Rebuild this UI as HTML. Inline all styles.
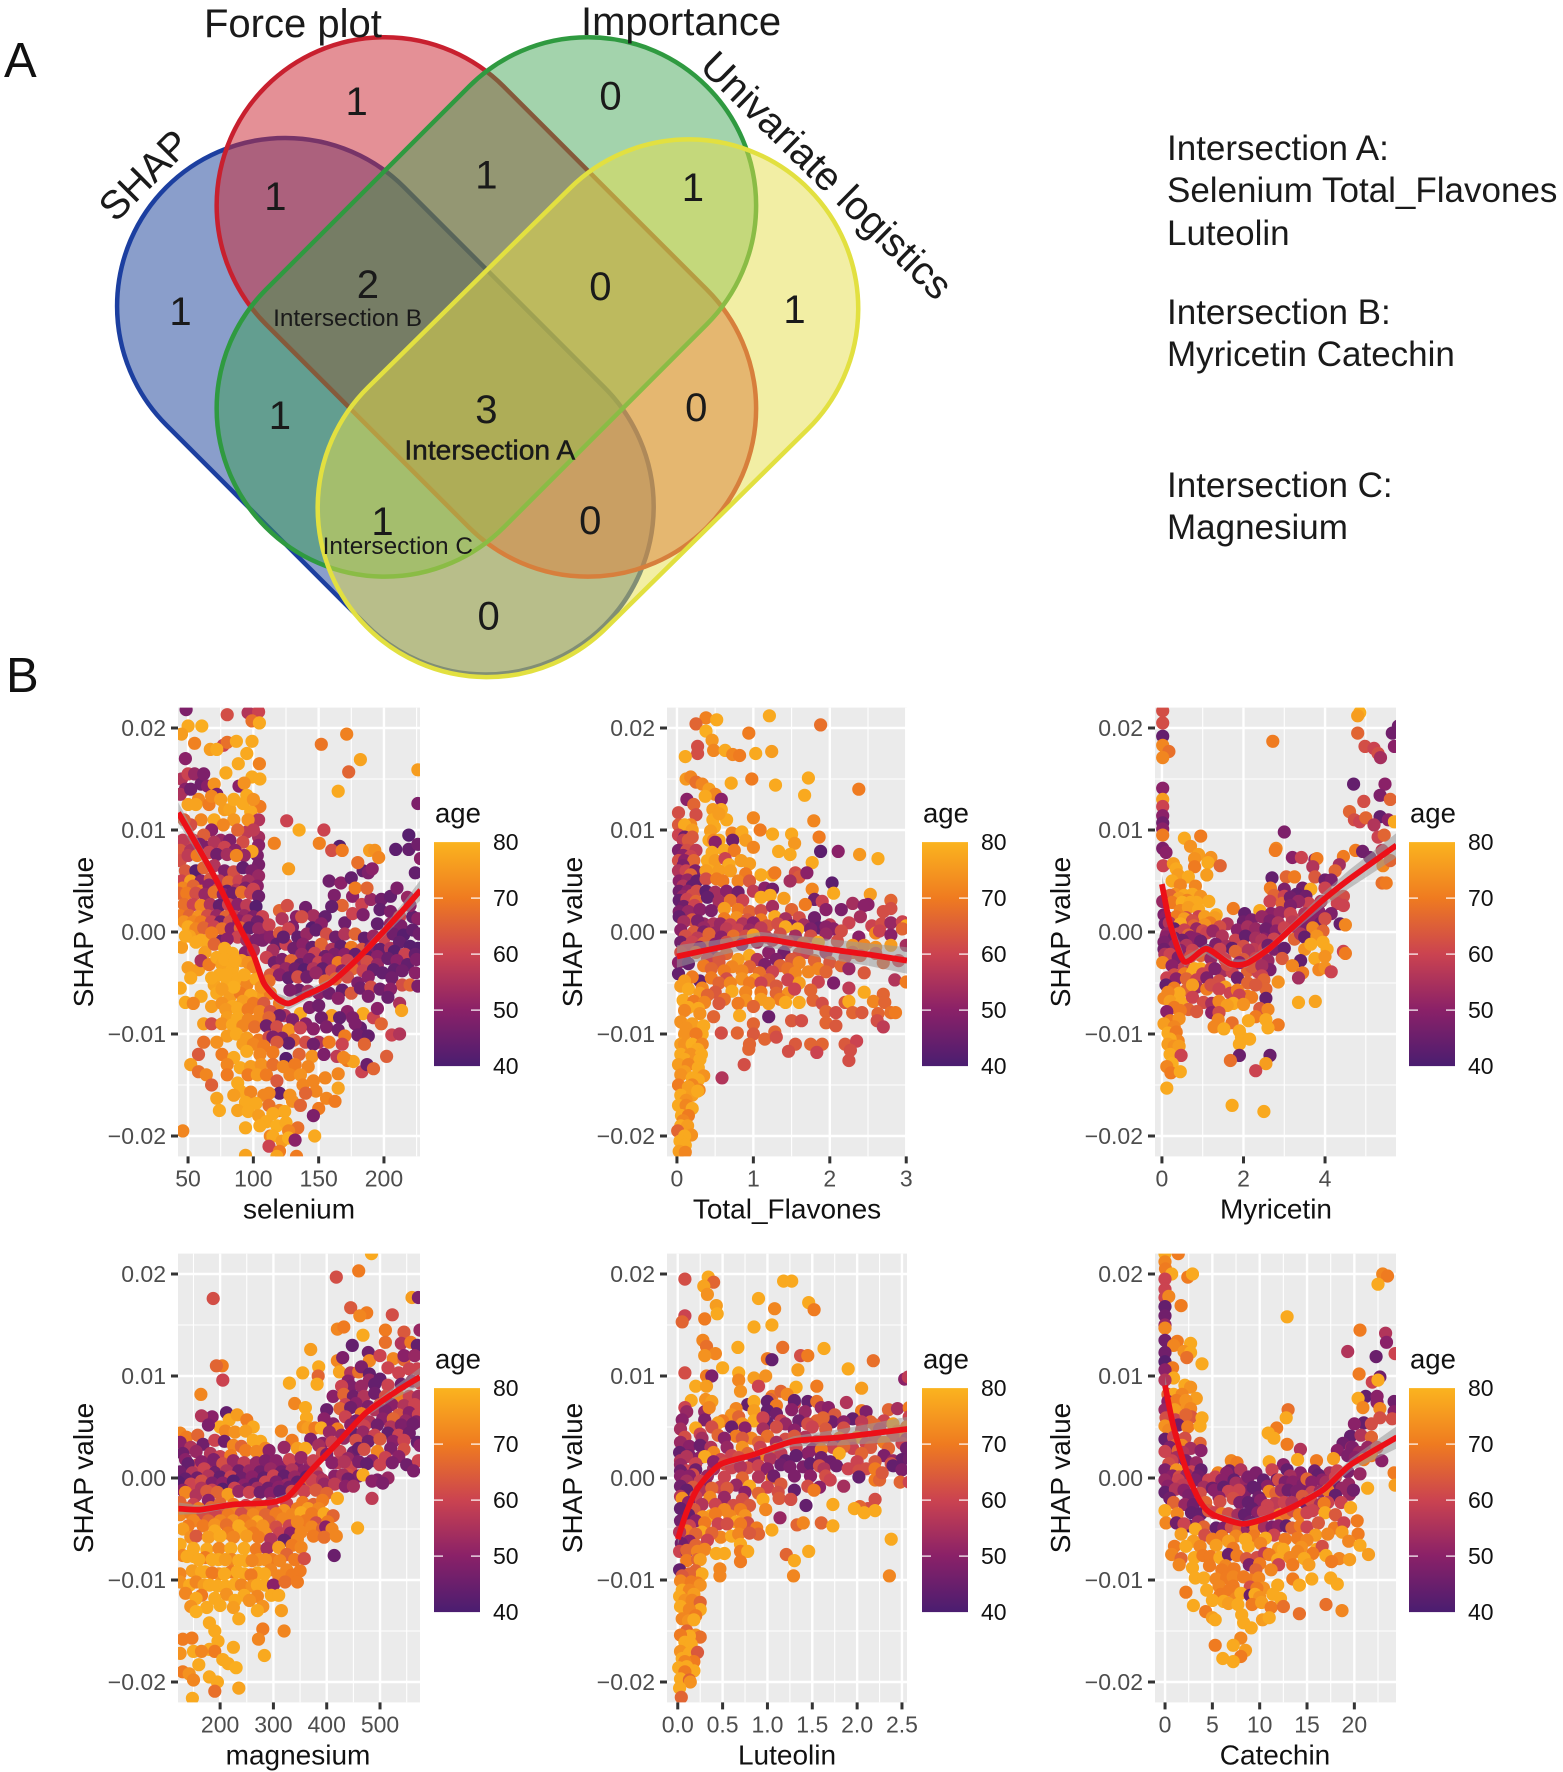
<!DOCTYPE html>
<html><head><meta charset="utf-8"><title>Venn diagram and SHAP dependence plots</title>
<style>
html,body{margin:0;padding:0;background:#fff}
svg{display:block}
text{font-family:"Liberation Sans",sans-serif}
</style></head>
<body>
<svg id="fig" xmlns="http://www.w3.org/2000/svg" width="1563" height="1772" viewBox="0 0 1563 1772">
<defs>
<linearGradient id="ageGradient" x1="0" y1="1" x2="0" y2="0">
<stop offset="0" stop-color="#4a1d70"/><stop offset="0.25" stop-color="#8a2168"/><stop offset="0.5" stop-color="#cb4350"/><stop offset="0.75" stop-color="#ef7b20"/><stop offset="1" stop-color="#fbb41f"/>
</linearGradient>
</defs>
<rect width="1563" height="1772" fill="#fff"/>
<text x="4" y="77" font-size="49" fill="#111">A</text>
<text x="6" y="692" font-size="49" fill="#111">B</text>
<g transform="scale(1.1285)">
<rect x="-274.5" y="-149" width="549" height="298" rx="149" transform="translate(341.5,360) rotate(45)" fill="#2a4ea0" fill-opacity=".55" stroke="#1c3fa0" stroke-width="4"/>
<rect x="-276.3" y="-149" width="552.6" height="298" rx="149" transform="translate(431,272) rotate(45)" fill="#cc2a35" fill-opacity=".52" stroke="#c8202f" stroke-width="4"/>
<rect x="-276.3" y="-149" width="552.6" height="298" rx="149" transform="translate(431,272) rotate(-45)" fill="#37a04a" fill-opacity=".46" stroke="#2f9a40" stroke-width="4"/>
<rect x="-275.7" y="-150" width="551.4" height="300" rx="150" transform="translate(521,361.75) rotate(-44.6)" fill="#e6de4a" fill-opacity=".5" stroke="#e2e040" stroke-width="4"/>
<g font-size="35.5" fill="#1a1a1a" text-anchor="middle">
<text x="316" y="102">1</text>
<text x="541" y="97">0</text>
<text x="244" y="186">1</text>
<text x="431" y="167">1</text>
<text x="614" y="178">1</text>
<text x="160" y="288">1</text>
<text x="326" y="264">2</text>
<text x="532" y="266">0</text>
<text x="704" y="286">1</text>
<text x="248" y="380">1</text>
<text x="431" y="375">3</text>
<text x="617" y="373">0</text>
<text x="339" y="474">1</text>
<text x="523" y="473">0</text>
<text x="433" y="558">0</text>
</g>
<g fill="#1a1a1a" text-anchor="middle">
<text x="308" y="289" font-size="21.6">Intersection B</text>
<text x="434" y="407" font-size="25" stroke="#1a1a1a" stroke-width=".4">Intersection A</text>
<text x="352.5" y="491" font-size="21.6">Intersection C</text>
</g>
</g>
<g font-size="40" fill="#1a1a1a">
<text x="204" y="37">Force plot</text>
<text x="581" y="35">Importance</text>
<text x="144" y="189" text-anchor="middle" transform="rotate(-45 144 175)">SHAP</text>
<text x="827" y="189" text-anchor="middle" transform="rotate(44.5 827 175)">Univariate logistics</text>
</g>
<g font-size="35" fill="#1a1a1a">
<text x="1167" y="160">Intersection A:</text>
<text x="1167" y="202">Selenium Total_Flavones</text>
<text x="1167" y="245">Luteolin</text>
<text x="1167" y="324">Intersection B:</text>
<text x="1167" y="366">Myricetin Catechin</text>
<text x="1167" y="497">Intersection C:</text>
<text x="1167" y="539">Magnesium</text>
</g>
<g id="plots"></g>
</svg>
<script>
// y values are SHAP x 1000; points are [x, shap, age]
const shapTicks=[-20,-10,0,10,20];
const shapTickLabels=["\u22120.02","\u22120.01","0.00","0.01","0.02"];
const ageTicks=[40,50,60,70,80];

const seleniumTicks=[50,100,150,200];
const seleniumTickLabels=["50","100","150","200"];
const seleniumSmoothX=[42.5,60,72,87,100,108,118,127,140,159,180,200,215,228];
const seleniumSmoothY=[11.7,7.8,5,1.1,-2.2,-5,-6.5,-7,-6.2,-5,-2.6,.1,2.2,4.1];
const seleniumSmoothSE=[1,.7,.5,.4,.4,.4,.5,.6,.5,.4,.4,.5,.7,1];
const seleniumPoints=[
[80,21.3,62],[48.5,21.8,48],[96,21.5,56],[104,21.6,60],[99,20.7,68],[104.6,20.5,78],[50,20.2,78],[60.5,20.2,79],[45,19.4,76],[55,18.5,71],[77,18.3,60],[80,18.6,68],[87,18.7,78],[99,18.7,78],[67,17.9,76],[72,17.9,78],[48,17,50],[95,17.5,78],[88.5,16.5,78],[104.6,16.5,71],[79,15.6,78],[99,15.2,78],[105,15,78],[152,18.4,69],[171.5,19.4,71],[182,16.9,77],[173,15.7,66],[165,13.8,78],[226,15.9,76],[45,15,56],[50,15.5,60],[55,15.5,52],[48,14,50],[60,14.5,46],[65,14.3,50],[70,14.5,74],[89,14.3,50],[93,14.6,74],[72,13.5,48],[58,13,72],[50,12.5,77],[56,12.5,77],[44,13.5,55],[95,13.4,78],[66,12.5,70],[78,12,76],[82,12,77],[105,12.3,70],[98,11.8,78],[70,11,78],[60,11,72],[52,10.5,62],[47,11,65],[85,11,75],[77,10.5,72],[68,10,50],[62,9.5,65],[54,9,60],[46,9,58],[75,9,52],[82,9,48],[125.5,10.9,60],[135,10,78],[154,10,60],[95,9.8,58],[104,11,56],[150.5,8.7,71],[116,8.7,71],[104,9.3,54],[104,8.5,50],[103,7.5,48],[104,6.6,47],[99,7.9,77],[127,6.2,76],[166,8.4,42],[160,8,62],[168,8,70],[189,8,76],[193,8,74],[196,7.3,72],[209,8.1,43],[219,8.1,44],[219,9.5,42],[226,8.6,46],[224,5.8,44],[226,12.6,48],[228,7.2,50],
[52,14,46],[62,15.5,48],[68,13.3,72],[75,13,76],[85,13,78],[92,12.6,78],[100,13,74],[88,10,66],[92,8.8,62],[96,11,74],[100,10,58],[64,8.3,48],[70,8.8,56],[78,8.3,60],[86,8,50],[93,7.5,52],[44,8,64],[52,8,56],[59,8.6,48],
[44,7,62],[50,7.5,58],[57,7.5,70],[66,7.8,60],[72,7.6,46],[80,7.6,54],[87,7.5,72],[48,6,64],[56,6,42],[62,6.3,66],[70,6.5,56],[78,6,48],[85,5.9,62],[92,6.3,44],[99,6,48],[104,5.5,52],[45,5,60],[52,5,76],[60,5,50],[67,5.2,64],[74,5,58],[81,4.9,66],[89,5,60],[96,5,54],[103,4.5,50],[46,4.3,72],[54,4.5,66],[60,4,70],[66,4.6,50],[73,4.2,62],[80,4,44],[87,4.1,56],[94,4.3,48],[100,4.2,60],[43,3.8,66],[49,3.8,70],[56,3.8,62],[63,3.7,52],[70,3.9,68],[77,3.7,50],[84,3.8,46],[91,3.9,68],[98,3.8,60],[104,3.5,46],[47,2.7,68],[54,2.7,60],[60,2.6,72],[67,2.7,56],[74,2.6,44],[81,2.7,60],[88,2.7,50],[95,2.6,58],[102,2.5,42],[44,1.6,70],[51,1.6,66],[58,1.5,74],[65,1.6,62],[72,1.6,52],[79,1.5,66],[86,1.5,58],[93,1.6,52],[100,1.5,48],[107,1.5,60],[47,1,74],[54,1,72],[60,1,70],[68,1,60],[75,1,46],[82,1,62],[89,1.1,50],[96,1.1,56],[103,1,46],[110,.2,50],[50,.5,78],[56,.3,72],[62,.4,66],[70,.5,60],[76,.3,68],[83,.3,50],[90,.4,66],[97,.4,44],[104,.3,52],[51,-.4,77],[60,-.8,78],[66,-.9,78],[75,-.9,46],[88,-.5,60],[95,-.8,54],[102,-.8,48],[45,-1.5,76],[68,-.1,70],[48,-.4,78],[56,-1,78],[63,-2,76],[70,-1.2,66],[80,-.7,50],[94,-2,50],[100,-1.8,56],[107,-.8,48],
[112,.7,60],[120,2.1,66],[126,2.6,62],[133,1.5,50],[140,2.4,46],[146,1.6,54],[155,1.5,44],[162,3.6,48],[168,2.6,66],[176,3.5,50],[183,2.7,60],[190,3.2,52],[198,3.2,46],[205,3.5,44],[210,4.3,48],[218,3.4,52],[158,5,46],[167,4.8,50],[175,5.3,44],[184,6,44],[188,5.8,48],[180,6.8,68],[191,6.2,50],[178,4.3,70],[187,4.3,66],[197,2.2,44],[205,2,48],[212,1.5,60],[222,1.5,44],[226,1.3,50],[122,1.3,56],[130,.5,48],[137,1.5,62],[145,.4,42],[152,.8,50],[160,2.5,44],[170,.9,46],[176,1.8,60],[184,1.7,48],[195,.8,44],[205,.8,52],[213,.6,48],[220,2.6,50],
[113,-.5,50],[120,-.1,64],[127,.3,60],[134,-.5,44],[141,-.2,52],[148,.2,44],[156,-.2,62],[163,-.5,46],[170,-.2,56],[178,-.2,66],[185,-.6,44],[192,-.4,52],[200,-.6,60],[207,-.2,46],[215,-.3,42],[222,.2,44],[227,-.2,46],[118,-1.2,44],[125,-1.2,60],[131,-1.6,46],[138,-1.2,50],[145,-1.5,44],[152,-1.2,66],[160,-1.7,56],[167,-1.4,44],[175,-1.5,70],[183,-1.7,64],[190,-1.5,48],[197,-1.7,44],[205,-1.6,56],[212,-1,44],[220,-1.4,42],[226,-1.6,42],[115,-1.8,54],[123,-.5,44],[137,-2.2,52],[147,-2.1,60],[155,-2.4,46],[162,-2.2,48],[170,-2.2,50],[178,-2.2,44],[187,-2.4,44],[195,-2.4,50],[208,-1.9,42],[216,-2.2,60],[224,-2.2,44],[110,-2.5,60],[116,-3,46],[122,-2.7,48],[129,-2.8,66],[136,-3.2,44],[143,-2.7,48],[150,-3,60],[157,-2.7,50],[165,-3,70],[172,-2.8,60],[180,-3.2,56],[187,-2.9,62],[195,-3.2,52],[203,-2.6,45],[210,-2.8,50],[218,-3.2,44],[225,-2.7,48],[118,-3.8,60],[125,-3.6,52],[132,-3.6,46],[139,-3.7,42],[146,-3.6,56],[153,-3.6,44],[160,-3.8,60],[168,-3.8,50],[176,-3.6,66],[184,-3.8,60],[192,-3.7,44],[208,-3.7,44],[214,-3.8,46],[224,-4,50],[113,-4.2,64],[120,-4.2,50],[127,-4.5,44],[134,-4.4,62],[141,-4.4,46],[148,-4,52],[155,-4.8,66],[163,-4.6,66],[172,-4.4,62],[180,-5,48],[188,-4.4,50],[199,-4,44],[206,-4.5,46],[214,-5.2,62],[220,-5.2,66],[226,-5.3,48],[135,-5.7,46],[142,-5.8,54],[150,-6,50],[168,-5.7,44],[175,-6,64],[182,-5.5,46],[190,-5.4,62],[128,-5.7,48],[158,-6,46],[165,-6.5,50],[188,-6.3,48],[197,-5.6,46],[205,-5.6,50],
[44,-5.5,78],[50,-3.5,76],[58,-3.7,76],[60,-2.8,55],[52,-4.5,78],[66,-3.2,70],[72,-2.5,78],[48,-6.9,78],[60,-6.3,78],[54,-7,72],[78,-1.6,78],[84,-2.1,78],[70,-5.2,77],[76,-3.2,77],[84,-3.6,78],[91,-2.8,76],[96,-3,74],[74,-4.2,78],[80,-4.9,78],[88,-4.6,78],[95,-5.2,72],[102,-4.6,78],[100,-6.4,78],[72,-6,78],[82,-6.4,76],[90,-6,70],[106,-6.5,76],[113,-6,70],[120,-7,70],[78,-2.7,78],[86,-2.8,78],[100,-3.4,72],[68,-4.5,78],[79,-4.2,78],[85,-5.4,79],[93,-4.2,78],[76,-5.6,76],[98,-6.2,78],[106,-5.4,74],[112,-4.8,68],[68,-7.3,76],[76,-7,74],[84,-7.3,78],[92,-6.8,76],[100,-7,70],[108,-7,64],[79,-7.6,75],[88,-7.5,78],[96,-7.6,70],[105,-7.8,72],[113,-7.8,62],[124,-8.2,56],[136,-8,78],[143,-7.4,48],[150,-7.2,46],[160,-8.2,76],[172,-7.8,50],[184,-8,78],[192,-8.4,60],[203,-6.4,45],[212,-7,55],[213.5,-7.7,77],[195,-7.5,50],[120,-8.2,46],[130,-8.6,48],[140,-9,50],[152,-8.4,46],[166,-8.4,44],[176,-8.4,48],[182,-9.4,44],[80,-8.4,76],[88,-8.4,78],[96,-8.6,72],[104,-8.5,72],[112,-8.4,66],[62,-9,76],[68,-9,62],[76,-9,74],[84,-9.1,78],[92,-9.2,72],[101,-9.3,68],[110,-9.2,46],[118,-9.3,62],[127,-9.6,74],[136,-9.4,60],[146,-9.5,50],[156,-9.3,48],[165,-9.6,46],[178,-9,48],[198,-9,66],[80,-10.2,76],[87,-10,78],[95,-10.4,76],[104,-10.6,70],[112,-10.3,62],[122,-10.4,48],[131,-10.6,66],[140,-10.8,62],[150,-10.8,56],[180,-10.1,46],[188,-10.2,44],[206,-10.1,60],[212,-10,56],[185,-11,66],[170,-10.2,70],[115,-10.3,48],[127,-10.9,44],[146,-11,46],[158,-10.8,70],[168,-11,60],[92,-11,76],[100,-11,72],[108,-11.2,70],[118,-10.8,64],[62,-10.8,68],[72,-10.8,74],[58,-12,64],[76,-12,70],[85,-12.3,78],[95,-11.7,78],[105,-12,72],[115,-11.8,70],[125,-12.4,42],[135,-12,66],[145,-12.2,74],[154,-12,48],[164,-12.2,58],[52,-13,76],[172,-12.6,70],[176.5,-12.7,77],[202,-12.2,65],[169,-12.3,72],[80,-13,72],[90,-13.3,78],[98,-13.2,76],[106,-13,74],[115,-13,68],[123,-13.2,72],[132,-13,70],[142,-13.2,72],[58,-13.7,68],[64,-14,72],[68,-15,65],[80,-14,70],[88,-14.8,78],[96,-14,70],[103,-14,76],[110,-14,70],[118,-14.6,64],[128,-14,72],[136,-14,74],[146,-14.6,72],[183,-13.7,60],[187,-13,45],[192,-13.4,66],[165,-13.9,72],[165,-15.3,77],[138,-15,72],[155,-14.3,72],[90,-15.6,78],[98,-15.7,72],[108,-16,72],[120,-15.8,44],[128,-16,74],[148,-15.6,72],[140,-15.8,66],[85,-16,76],[94,-16.7,78],[102,-16.8,78],[112,-15.8,72],[72,-16.3,77],[74,-17.5,78],[88,-17.5,77],[96,-17.6,78],[104,-18,76],[112,-17,68],[120,-17.5,72],[130,-16.6,74],[156,-16.3,72],[162.5,-16.6,70],[136,-17,66],[150,-17.3,70],[146,-18,48],[115,-17.8,78],[124,-17.6,78],[110,-18.6,78],[118,-19,79],[125,-18.7,78],[94,-19.2,78],[105,-19,78],[134,-19.2,68],[113,-20,72],[115,-20,78],[122,-20.5,76],[127,-19.5,72],[127,-20.2,79],[132,-20.4,50],[147,-20,78],[112,-21,60],[120,-21.5,70],[94,-21.9,77],[118,-22,77],[133,-22,70],[46,-19.5,72]
];

const flavonesTicks=[0,1,2,3];
const flavonesTickLabels=["0","1","2","3"];
const flavonesSmoothX=[0,.5,1.1,1.5,2,2.5,3.01];
const flavonesSmoothY=[-2.4,-1.6,-.7,-1.1,-1.7,-2.2,-2.8];
const flavonesSmoothSE=[1.1,.8,.7,.8,1,1.1,1.3];
const flavonesPoints=[
[.38,21,71],[.52,20.8,78],[.25,20.4,66],[1.21,21.2,78],[.94,19.5,70],[1.88,20.3,68],[.38,19.7,79],[.46,18.8,75],[.27,18.2,62],[.27,17.5,62],[.48,17.8,72],[.63,17.8,78],[.73,17.4,72],[.82,17.3,70],[1.03,17.5,78],[1.24,17.7,76],[.11,17.2,78],[.98,15,70],[.71,14.6,78],[1.29,14.4,78],[1.72,15.1,78],[1.67,13.4,78],[2.38,14,70],[.12,15,75],[.18,15.2,72],[.25,14.7,68],[.33,14.5,72],[.42,14,76],[.5,13.5,72],[.37,13.3,78],[.13,13,50],[.58,13,50],[.22,12.5,66],[.58,12,78],[.47,12,76],[.02,11.7,62],[.25,11.5,62],[1,11.2,72],[1.79,10.9,72],[.65,11,78],[.47,11,78],[.55,11.6,76],[.02,10.5,64],[.18,10.5,72],[.1,10.5,78],[.2,10,76],[.49,10.3,78],[.44,9.9,76],[1.09,10,70],[.02,9.5,60],[.1,9.3,46],[.2,9.3,64],[.72,9.7,72],[.85,9.8,78],[1.25,9.6,78],[1.5,9.6,78],[1.86,9.3,70],[.08,9,58],[.15,9,64],[.42,9,78],[.48,9,72],[.55,9,78],[.5,8.8,50],[.73,9,46],[.9,9,76],[1.54,8.7,75],[1,8.3,72],[.02,8,48],[.13,8,62],[.25,8,58],[.46,7.8,78],[.62,8,78],[.75,8,70],[1.33,7.9,78],[1.88,7.9,43],[2.11,7.9,50],[1.48,7.6,78],[2.39,7.6,75],[2.63,7.2,78],[.08,7.5,50],[.18,7.4,60],[.02,7,62],[.1,7,50],[.22,7,66],[.4,7,78],[.5,7,76],[.63,7.2,60],[.84,7,76],[.95,6.7,76],[1.77,6.8,78],[.68,6.6,78],[.08,6.5,48],[.02,6,56],[.12,6,60],[.24,6,48],[.42,6,78],[.38,6,76],[.55,6,76],[.7,6,76],[.9,5.7,70],[.18,5.6,66],[1.1,5.6,78],[1.25,5.6,78],[1.28,5.8,70],[1.55,5.8,62],[1.6,5.4,64],[1.7,5.8,50],[.03,5,50],[.14,5.1,52],[.26,5,44],[.38,5.2,62],[.52,5.2,70],[.6,5,70],[.8,5,72],[.95,5,64],[1.48,5,54],[2.03,4.8,43],[.08,4.5,56],[.2,4.5,44],[.03,4,46],[.14,4,50],[.26,4,62],[.38,4,43],[.5,3.9,54],[.65,4,50],[.8,3.9,46],[1,4,58],[1.15,4.3,50],[1.25,4.2,46],[1.77,4.2,72],[.08,3.5,52],[.2,3.6,62],[.03,3.1,44],[.13,3.2,60],[.25,3,66],[.4,3.4,44],[.55,3,54],[.7,3.1,68],[.86,3.1,60],[1.1,3.4,78],[1.22,3.6,78],[1.4,3.3,76],[1.8,3.2,46],[2.05,3.8,78],[2.53,3.7,76],[1.9,3,60],[2.3,2.8,54],[2.5,2.7,50],[2.8,3.1,66],[2.45,2.6,50],[.09,2.5,46],[.23,2.6,60],[.03,2,48],[.15,2,52],[.3,2.2,50],[.45,2.1,48],[.62,2.3,76],[.8,2.2,70],[.95,2,66],[1.1,2.1,62],[1.25,2.5,54],[1.5,2.2,66],[1.68,2.7,70],[1.95,2.2,50],[2.15,2.2,48],[2.8,2.3,62],[2.7,2,62],[.03,1.5,44],[.2,1.2,64],[.35,.8,52],[.48,.8,56],[.62,1.3,70],[.78,1.4,74],[.92,1.2,64],[1.1,1.2,70],[1.28,1.5,78],[1.42,1.3,54],[1.6,1.4,62],[1.8,1.4,46],[2,.7,58],[2.25,.9,60],[2.4,1.5,54],[2.55,.6,60],[2.68,.8,62],[2.8,.9,52],[2.95,1,60],[3,.6,78],[.09,1,54],[.27,1.1,48],[.35,.4,52],[.57,.8,52],[.7,.7,60],[.86,.8,56],[1,.9,50],[1.18,.6,64],[1.32,.8,62],[1.5,.6,48],[1.66,.7,54],[1.86,.4,44],[1.95,.5,50],[2.05,.3,50],[.05,.2,50],[.22,0,64],[.35,0,48],[.5,-.1,52],[.65,.3,58],[.8,.2,60],[.95,.2,52],[1.1,.4,58],[1.42,.5,78],[1.58,.3,78],[1.75,.3,48],[1.95,-.2,52],[2.15,.1,62],[2.38,-.5,50],[2.6,-.1,72],[2.65,.1,60],[2.8,-.3,50],[2.95,.3,66],[.11,-.4,62],[.27,-.6,58],[.42,-.2,66],[.58,-.5,50],[.74,-.4,68],[.9,-.4,62],[1,-.3,76],[1.17,-.5,58],[1.35,-.2,62],[1.55,-.4,54],[1.75,-.4,62],[.05,-1,46],[.2,-1,60],[.35,-1.1,66],[.5,-1.2,50],[.65,-1,62],[.85,-1.2,48],[1.05,-1,54],[1.25,-.8,56],[1.45,-1,60],[1.65,-1.1,66],[1.85,-1,78],[2.1,-.9,62],[2.3,-1.3,74],[2.45,-1.3,72],[2.6,-1.5,74],[2.8,-1.3,76],[3,-1.3,54],[.12,-1.5,60],[.3,-1.5,50],[.05,-2,62],[.25,-2,66],[.45,-2.1,52],[.65,-2.1,66],[.95,-2.3,78],[1.2,-2,50],[1.4,-2,46],[1.6,-2.1,62],[1.7,-2,60],[1.95,-2,54],[2.3,-2,66],[2.6,-2.1,64],[2.2,-2.5,60],[2.4,-2.3,64],[2.7,-3,66],[2.9,-2.8,60],[.1,-2.7,46],[.4,-2.6,60],[.55,-2.6,64],[.8,-2.7,76],[1.05,-2.7,56],[1.3,-2.7,48],[1.5,-2.7,64],[1.8,-2.8,66],[.02,-3,50],[.15,-3.1,44],[.35,-3.3,70],[.55,-3,64],[.72,-3.4,72],[.95,-3.4,66],[1.15,-3.2,48],[1.35,-3.3,66],[1.6,-3,72],[1.85,-3.6,72],[2,-3,64],[2.15,-3.3,66],[2.25,-3.6,52],[2.45,-4,64],[.45,-3.6,66],[.62,-3.8,70],[.85,-3.8,72],[1.08,-4,68],[1.25,-3.9,60],[1.45,-3.6,68],[1.55,-4,72],[1.72,-3.9,72],[1.95,-3.9,66],[.02,-4.1,44],[.3,-4.8,44],[.2,-4.4,70],[.45,-4.5,70],[.65,-4.6,62],[.85,-4.6,74],[1.02,-4.7,76],[1.2,-4.7,66],[1.45,-4.7,60],[1.6,-5,76],[1.85,-4.9,60],[2.05,-5,48],[2.25,-5.5,58],[2.85,-4.7,56],[3,-4.9,70],[.1,-4.8,76],[.55,-5,66],[.7,-5,72],[.95,-5,70],[1.1,-5,60],[1.3,-5.3,64],[1.75,-5.7,66],[.05,-5.3,76],[.15,-5.6,78],[.33,-5.5,72],[.5,-5.9,64],[.72,-5.8,78],[.9,-5.9,72],[1.1,-5.9,70],[1.3,-6,66],[1.46,-6,74],[1.54,-5.6,60],[2.45,-5.9,78],[2.7,-6.1,66],[.3,-6,76],[.4,-6.2,66],[.62,-6.6,68],[.9,-6.7,74],[1.1,-6.6,76],[1.35,-6.6,70],[.08,-6.7,78],[.22,-6.8,70],[.36,-6.9,72],[.55,-7,64],[.8,-7,70],[1,-7.3,66],[1.2,-7,76],[1.42,-6.9,78],[1.6,-6.9,78],[1.78,-6.7,66],[1.9,-7,62],[2.2,-6.9,64],[2.25,-6.8,78],[2.57,-6.8,72],[2.72,-6.9,66],[.15,-7.4,78],[.28,-7.5,78],[.1,-7.7,72],[.3,-8,74],[.48,-8.3,66],[.82,-8.2,78],[1.2,-8.3,45],[1.5,-8.7,64],[1.63,-8.7,62],[1.95,-7.8,66],[2.08,-7.9,62],[2.3,-7.9,66],[2.42,-7.9,64],[2.63,-8,66],[2.8,-7.9,68],[2.86,-7.9,70],[.05,-8.8,74],[.2,-9,76],[.35,-9.2,78],[1,-9,66],[1.95,-8.9,66],[2.08,-9.2,64],[2.62,-8.7,62],[2.7,-9.3,58],[.12,-9.4,74],[.33,-10,78],[.1,-10,74],[.25,-10,70],[.58,-9.9,62],[.79,-9.9,66],[1,-10,64],[1.28,-9.8,66],[.05,-11,76],[.1,-11,74],[.2,-11,79],[.33,-11,72],[.27,-11.5,78],[.95,-11,66],[1.15,-10.5,66],[1.3,-10.3,62],[1.55,-11,64],[1.75,-11,66],[1.9,-11,66],[2.2,-11,64],[2.35,-10.7,60],[.05,-12,78],[.18,-12,74],[.32,-12,78],[.94,-11.5,66],[1.46,-11.7,62],[1.83,-11.8,60],[2.27,-11.6,62],[.1,-12.5,78],[.24,-12.6,74],[.3,-12.5,78],[.88,-13,62],[2.25,-12.6,62],[.02,-13,76],[.15,-13,72],[.28,-13.3,78],[.1,-13.7,76],[.05,-14,74],[.2,-14.3,78],[.35,-14.1,74],[.28,-14.5,78],[.2,-15,72],[.02,-15,70],[.15,-15.2,76],[.29,-15.5,72],[.59,-14.3,56],[.05,-16,78],[.2,-16,76],[.27,-15.6,78],[.12,-16.5,74],[.02,-17,78],[.12,-17,72],[.2,-17.3,78],[.06,-18,78],[.15,-18,70],[.08,-18.5,72],[.05,-19,78],[.14,-19,76],[.01,-19.5,66],[.19,-19.9,74],[.1,-20,78],[.04,-20.5,78],[.11,-20.9,78],[.03,-21.5,76],[.11,-21.6,72]
];

const myricetinTicks=[0,2,4];
const myricetinTickLabels=["0","2","4"];
const myricetinSmoothX=[0,.2,.55,1.09,1.66,2.07,2.64,3.3,3.94,4.6,5.75];
const myricetinSmoothY=[4.7,.8,-2.9,-1.65,-3.1,-3.1,-1.6,.8,3.1,5.2,8.5];
const myricetinSmoothSE=[1,.8,.5,.5,.4,.4,.4,.5,.7,.9,1.2];
const myricetinPoints=[
[.02,21.7,62],[.02,20.5,62],[.02,19.2,44],[.02,18.3,72],[.17,17.7,68],[.02,17.1,72],[2.72,18.7,70],[4.85,21.5,79],[4.8,21.2,76],[4.8,19.5,66],[4.98,18.2,62],[5.2,18,60],[5.3,17.5,62],[5.36,17.1,54],[5.65,19.5,46],[5.7,18.2,50],[5.8,20.2,46],[4.7,14.5,44],[5.47,14.5,50],[4.95,12.8,62],[5.35,13.4,48],[5.6,13,66],[.02,14.1,50],[.02,13,76],[.02,12.3,60],[.02,11.4,50],[.02,10.7,46],[.02,10.1,50],[.02,9.5,70],[4.6,11.8,66],[5.35,11.3,44],[4.72,11,62],[4.85,10.8,60],[5,11.2,66],[5.2,10.5,56],[5.55,11,50],[5.7,10.8,78],[.55,9.2,78],[.95,9.4,70],[3,9.8,48],[5.3,9.3,60],[5.45,9.5,66],[.02,8.2,48],[.1,7.8,50],[.7,8.4,74],[.9,7.6,76],[2.8,8.2,72],[2.78,8,70],[4.75,8,70],[4.92,7.9,46],[5.1,7.3,46],[5.4,8,58],[.03,6.5,60],[.28,6.7,76],[1.2,7.3,74],[.8,7.2,74],[1.13,6.8,78],[3.2,7.3,50],[3.42,7.3,60],[3.75,7.1,52],[3.8,7.2,70],[4.45,7.4,70],[.35,6.2,78],[.8,6.4,70],[1.43,6.5,66],[3.7,6.4,56],[4.35,6.6,54],[4.25,6,66],[5.42,6.5,72],[5.6,7,66],[.4,5.6,76],[.65,5.4,78],[1.1,5.6,76],[2.7,5.3,44],[3.05,5.4,66],[3.25,5.4,70],[3.75,5.4,64],[4,5.1,46],[4.15,5.1,48],[5.4,4.8,68],[5.5,4.8,70],[.25,5,78],[.45,4.6,72],[.82,4.5,72],[2.66,4.3,70],[3,4.2,48],[3.45,4.3,46],[3.65,4.2,78],[4,4.3,60],[.32,3.7,74],[.55,3.6,78],[.75,3.7,78],[.95,3.5,74],[.2,3.6,66],[2.75,3.6,66],[3.3,3.7,44],[3.53,3.5,46],[4.25,3.6,64],[4.45,3.5,62],[3,3.5,60],[.42,3.3,76],[.62,3.1,72],[.85,2.9,78],[.02,3,52],[.25,2.9,70],[.5,2.9,79],[.7,2.9,78],[1.15,3,78],[2.65,3,60],[2.95,2.8,66],[3.15,3.4,46],[3.9,3,56],[4.3,2.8,60],[4.45,2.6,60],[3.6,2.8,60],[3.35,3,52],[3.15,2.6,48],[.45,2.1,72],[.65,2.4,76],[.9,2.2,78],[1.33,1.7,78],[1.75,2.3,70],[2.03,1.8,44],[2.4,2.1,78],[2.68,1.8,50],[2.9,1.9,52],[3.15,1.8,60],[3.5,1.8,56],[3.85,2,50],[4.15,1.8,48],[.05,1.7,48],[.1,1.5,50],[.35,1.5,70],[.6,1.4,62],[.9,1.5,60],[1.3,1.4,76],[1.05,1.5,76],[.55,1.3,76],[.75,1.1,62],[1.18,.9,70],[1.6,.8,56],[2,1,46],[2.2,1.2,48],[2.45,1.5,52],[2.65,1.1,48],[2.85,.9,56],[3.2,1.4,60],[3.2,1,58],[3.55,.8,50],[3.7,1.4,50],[3.9,.9,46],[4,1.3,62],[4.37,.8,44],[4.5,.7,72],[.08,.8,46],[.18,.9,56],[.45,.8,78],[.78,.6,66],[1.05,.7,74],[1.42,.5,62],[1.85,.2,50],[2.1,.5,54],[2.3,.3,52],[2.55,.3,46],[2.8,.1,50],[3,.4,60],[3.35,.2,52],[3.55,.3,48],[3.7,.4,72],[3.95,.1,66],[.3,.3,44],[.55,.2,60],[.85,.3,52],[1,.1,62],[.12,-.2,52],[.4,-.2,60],[.65,-.3,66],[.7,-.5,50],[1.1,-.1,60],[1.25,.1,52],[1.48,-.4,56],[1.8,-.8,60],[2.05,-.4,44],[2.3,-.6,54],[2.5,-.7,50],[2.75,-.7,60],[3.25,-.7,66],[3.4,-.2,56],[3.5,-.5,44],[3.8,-.4,74],[.1,-.5,50],[.3,-.6,46],[.5,-.8,46],[.85,-.7,50],[2.45,-.8,56],[.05,-1,48],[.32,-1.3,52],[.6,-1.3,56],[.95,-.9,46],[1.32,-1.2,48],[1.58,-1.4,54],[1.72,-1.6,44],[2,-1.4,62],[2.25,-1.7,58],[2.52,-1.6,60],[2.6,-1.3,46],[2.75,-1.7,48],[3,-1.6,44],[3.5,-1.7,74],[3.65,-1.2,78],[3.95,-1,78],[4.05,-1.7,78],[4.45,-1.9,60],[4.5,-2.1,70],[.05,-1.7,46],[.45,-1.8,50],[.75,-1.8,60],[1.08,-1.8,46],[1.42,-1.7,60],[1.8,-1.9,66],[2.12,-1.8,56],[.07,-2.2,56],[.2,-2.2,60],[.4,-2.5,48],[.7,-2.4,62],[.95,-2.3,66],[1.2,-2.6,52],[1.55,-2.7,60],[2,-2.7,64],[2.3,-2.6,60],[2.6,-2.8,52],[2.95,-2.6,64],[3.4,-2.8,44],[3.75,-2.6,78],[4,-2.4,74],[.02,-3,72],[.25,-3.3,50],[.55,-3.5,60],[.8,-3.6,78],[.95,-3.6,78],[1.2,-3.6,60],[1.5,-3.8,54],[1.72,-3.9,60],[2.1,-3.8,66],[2.35,-3.9,60],[2.65,-3.7,48],[3.2,-3.3,72],[3.45,-4,70],[3.85,-3.7,72],[4,-3.5,74],[4.15,-3.9,60],[1.3,-3.6,48],[1.9,-3,50],[2.2,-3.4,64],[2.45,-3.3,54],[1.6,-3.2,62],[.3,-4.2,62],[.55,-4.1,70],[.75,-4,78],[1,-4.1,60],[2.45,-4.3,60],[.12,-4.5,60],[.35,-4.6,50],[.6,-4.6,66],[.85,-4.7,60],[1.1,-4.5,48],[1.4,-4.8,62],[1.85,-4.5,46],[2.1,-5,66],[2.5,-4.7,66],[2.85,-4.9,74],[3.35,-4.5,54],[.1,-5.2,44],[.3,-5.5,70],[.6,-5.7,66],[.85,-5.4,54],[1.1,-5.6,70],[1.55,-5.4,76],[1.68,-6,60],[1.95,-6.2,76],[2.1,-6.3,70],[2.55,-5.6,66],[2.55,-6.5,44],[1.2,-5.2,62],[1.4,-5.6,60],[1.85,-5.7,70],[2.3,-5.2,64],[.75,-5.2,76],[.42,-6,78],[.15,-5.9,72],[1.9,-6.2,60],[2.2,-6.4,70],[.05,-6.5,72],[.2,-6.8,76],[.48,-6.9,78],[.75,-6.4,60],[1.02,-6.9,62],[1.22,-7,54],[1.4,-6.8,72],[1.75,-7,78],[2,-7.1,74],[2.4,-7.5,64],[3.35,-6.9,78],[3.76,-6.8,77],[.3,-7.4,70],[.65,-7.6,66],[1.6,-7.2,76],[2.6,-7.6,72],[.12,-7.8,50],[.45,-7.7,70],[.85,-7.8,64],[1.22,-7.9,50],[1.4,-7.9,62],[2.3,-8.3,70],[1.38,-8.6,72],[.2,-8.7,70],[.42,-8.5,74],[1.72,-8.9,68],[2.12,-8.7,78],[2.55,-8.6,78],[2.85,-9.1,70],[.05,-9,76],[.3,-9.3,72],[1.28,-9.3,72],[1.52,-9.5,78],[1.9,-9.7,78],[2.6,-9.4,78],[.15,-9.9,78],[.35,-9.8,70],[.4,-10.7,72],[.2,-10.5,78],[1.95,-10.3,78],[2.15,-10.5,78],[.15,-11,76],[.3,-11.2,74],[.42,-11.2,76],[1.9,-11,78],[.2,-12,78],[.47,-12.1,60],[1.9,-12.1,45],[2.65,-12.1,45],[.25,-12.9,79],[1.68,-12.6,68],[2.55,-12.9,76],[.12,-13.2,72],[.22,-13.8,70],[.45,-13.7,78],[2.3,-13.6,60],[.12,-15.3,78],[1.72,-17,78],[2.5,-17.6,78]
];

const magnesiumTicks=[200,300,400,500];
const magnesiumTickLabels=["200","300","400","500"];
const magnesiumSmoothX=[122,163,225,294,328,368,418,474,531,575];
const magnesiumSmoothY=[-3,-3.1,-2.6,-2.4,-1.8,.6,3.3,6.4,8.5,9.9];
const magnesiumSmoothSE=[.6,.4,.3,.3,.3,.4,.4,.4,.6,.9];
const magnesiumPoints=[
[187,17.6,62],[418,19.7,62],[460,20.3,70],[484,22,78],[204,11,70],[193,11,66],[205,9.6,60],[164,8.2,72],[560,17.7,76],[572,17.7,48],[445,16.7,64],[475,16.2,70],[462,15.9,72],[523,16,62],[420,14.6,72],[432,14.8,70],[468,14,78],[510,14.5,70],[545,14.3,64],[575,14.5,52],[448,13,44],[510,13.3,68],[540,13.2,56],[558,13.3,70],[570,13,44],[370,12.6,76],[478,12.3,46],[420,11.5,72],[430,11.8,48],[480,11.5,72],[500,12,60],[525,11.7,72],[545,11.6,66],[545,12,50],[565,12,52],[385,10.9,78],[355,10.3,78],[384,10,66],[424,10.4,77],[445,10.3,56],[460,10.4,68],[465,10.9,48],[480,10.2,44],[515,10.8,60],[535,10.3,60],[555,10.7,60],[570,10.7,60],[330,9.3,78],[382,9.2,78],[440,9.5,50],[480,9.6,52],[500,9.7,44],[445,9,48],[465,9,52],[490,9.2,44],[515,9.1,60],[540,9.2,46],[560,9.5,52],[575,9.3,60],[340,7.3,72],[360,6.9,78],[428,9,60],[412,8,50],[432,8.2,66],[450,8,46],[470,8,56],[490,8.3,46],[510,8,62],[535,8,70],[555,8,60],[572,8,54],[435,7.2,60],[455,7.3,50],[478,7,48],[500,7.2,64],[522,7.2,50],[545,7.1,56],[565,7.2,60],[185,6,50],[165,6.1,56],[212,6.4,44],[217,5.7,78],[232,6.2,76],[250,5.7,70],[262,5,78],[200,5,78],[362,5.9,78],[400,6.7,45],[425,6.8,66],[445,6.9,46],[465,6.3,70],[490,6.7,56],[510,6.6,48],[535,6.2,64],[555,6.4,50],[572,6.2,60],[435,6,60],[455,5.6,48],[480,5.5,56],[505,5.8,50],[525,5.8,66],[548,5.6,52],[568,5.5,48],[395,5.8,50],[125,4.4,72],[137,4,70],[158,4.2,66],[178,5.2,48],[210,4.6,72],[228,4.5,74],[248,4.6,76],[262,3.7,78],[356,5,74],[365,4.9,76],[378,4.9,70],[390,4.9,78],[412,5.3,50],[420,4.8,70],[445,5.2,50],[470,5.1,60],[495,5.2,46],[520,5,56],[540,5.2,48],[562,5.3,46],[405,4.5,52],[428,4.2,52],[448,4.4,44],[468,4.5,52],[490,4.2,60],[515,4.4,44],[535,4.2,60],[555,4.4,46],[125,3.5,50],[145,3,56],[168,3.3,46],[190,3.7,60],[208,3.6,46],[225,3.2,72],[240,3.1,66],[276,3.6,78],[285,2.9,72],[315,4.6,72],[335,3.7,70],[370,3.8,48],[392,3.4,50],[385,3.2,54],[410,3.5,60],[432,3.9,52],[455,3.7,62],[478,3.6,46],[500,3.8,64],[525,3.6,50],[545,3.7,60],[570,3.5,44],[130,2.4,46],[155,2.6,52],[182,2.4,56],[200,2.1,60],[220,2.2,70],[248,2.7,70],[268,2.6,72],[292,2.7,50],[320,3,52],[345,2.9,76],[360,2.9,78],[392,2.4,62],[400,2.3,48],[425,2.6,60],[450,2.5,46],[460,2.9,44],[470,2.8,62],[495,2.6,72],[520,2.9,48],[545,2.8,62],[575,3.2,50],[440,1.9,52],[485,1.7,50],[510,2,60],[535,2.1,50],[135,1.8,50],[158,1.3,60],[180,1.1,52],[198,1.1,44],[218,1.2,54],[238,1.2,50],[258,1.2,46],[280,1.1,60],[300,1.2,44],[322,1.1,50],[345,1,48],[368,1.1,52],[420,1.5,58],[445,1,60],[140,1.4,44],[165,1.6,50],[188,1.8,48],[205,1.4,62],[225,1.7,52],[245,1.5,58],[268,1.5,52],[285,1.7,48],[305,1.7,50],[330,1.8,60],[352,2,52],[375,1.7,60],[410,1.5,50],[433,1.6,56],[460,1.6,48],[475,1.4,44],[500,1.3,60],[523,1.5,48],[550,1.3,46],[572,1.7,60],[125,.6,46],[148,.5,56],[170,.9,60],[190,.5,46],[212,.7,56],[235,.7,46],[255,.7,52],[275,.6,46],[295,.9,52],[315,.6,46],[335,.8,56],[358,.7,50],[380,.6,60],[415,.2,50],[440,.3,62],[430,.3,54],[460,.2,48],[468,.3,78],[495,-.2,48],[515,0,52],[563,.7,48],[135,-.1,44],[157,0,46],[178,.2,56],[200,.1,44],[220,.1,60],[240,0,46],[260,.1,50],[282,0,44],[300,.2,60],[320,.2,44],[340,.1,52],[362,.1,44],[385,.1,54],[440,-.1,46],[122,-.4,42],[145,-.6,60],[165,-.3,62],[185,-.5,48],[205,-.5,50],[225,-.3,42],[245,-.7,50],[265,-.6,44],[285,-.4,60],[305,-.4,48],[325,-.7,52],[345,-.4,44],[368,-.7,66],[372,-.2,60],[392,-.2,56],[395,-.6,52],[415,-.6,58],[435,-.8,50],[450,-.8,54],[485,-.3,50],[505,-.5,48],[130,-1.2,50],[165,-1,56],[185,-1.2,60],[205,-1.1,42],[227,-1,60],[250,-1.1,46],[270,-1,54],[290,-1,46],[310,-.9,50],[330,-.9,46],[350,-1,52],[135,-1.4,72],[155,-1.7,56],[175,-1.3,64],[195,-1.4,66],[215,-1.6,76],[235,-1.3,52],[255,-1.4,60],[275,-1.4,46],[295,-1.5,50],[312,-1.3,44],[335,-1.3,62],[358,-1.3,60],[380,-1.2,64],[400,-1.5,66],[485,-2,58],[125,-2.4,66],[150,-2.6,60],[178,-2.2,50],[200,-2.5,66],[225,-2.6,70],[248,-2.7,60],[270,-2.6,64],[295,-2.5,56],[325,-2.5,60],[355,-2.4,70],[375,-2.6,66],[392,-2.2,70],[420,-2,78],[138,-3,66],[160,-3,70],[183,-2.9,66],[207,-3.1,64],[230,-3.1,72],[255,-3.2,68],[278,-3.1,70],[300,-3.1,60],[320,-3.2,74],[345,-3,70],[365,-3,76],[385,-3,72],[125,-3.6,72],[145,-3.5,70],[168,-3.5,62],[192,-3.6,60],[215,-3.6,70],[240,-3.5,62],[262,-3.6,72],[285,-3.6,66],[305,-3.5,70],[335,-3.6,72],[352,-3.4,78],[372,-3.5,70],[395,-3.5,78],[412,-3.7,66],[150,-4.2,72],[178,-4.2,66],[200,-4.2,72],[225,-4.2,74],[245,-4.2,70],[270,-4.3,78],[292,-4.3,66],[318,-4,72],[360,-4.2,70],[380,-4.4,62],[402,-4.3,70],[140,-4.7,70],[168,-4.7,70],[190,-4.6,74],[212,-4.6,68],[235,-4.7,78],[258,-4.7,72],[280,-4.7,74],[305,-4.8,62],[330,-4.7,60],[345,-4.3,72],[372,-4.8,72],[392,-5,66],[398,-4.8,50],[410,-5,72],[458,-4.9,78],[130,-5,76],[145,-5.8,74],[190,-5.2,78],[215,-5.4,70],[240,-5.3,78],[262,-5.4,70],[285,-5.4,74],[312,-5.4,60],[332,-5.4,50],[352,-5.3,72],[155,-5.7,64],[178,-5.8,76],[200,-5.7,78],[225,-5.8,72],[250,-5.7,76],[272,-5.8,70],[295,-6,56],[320,-6.1,44],[345,-6,72],[375,-5.7,70],[395,-5.8,68],[418,-5.7,72],[125,-6.5,78],[150,-6.9,78],[175,-7,78],[198,-6.9,72],[220,-6.9,78],[245,-6.9,78],[268,-7,70],[288,-6.9,54],[310,-6.8,76],[335,-6.6,70],[352,-6.8,72],[414,-7.6,45],[130,-7.6,72],[138,-7.7,78],[150,-7.7,78],[172,-7.8,70],[197,-8,78],[222,-8,72],[248,-8.1,78],[273,-8,74],[298,-8,70],[325,-7.5,66],[160,-8,78],[185,-8,78],[210,-8,76],[235,-8.1,78],[260,-8.1,72],[285,-8,74],[312,-8.1,72],[340,-8,70],[358,-7.9,62],[125,-9.4,72],[148,-9.1,76],[172,-9.2,78],[198,-9.4,74],[220,-9.2,70],[245,-9.4,78],[270,-9.3,78],[295,-9,72],[325,-9,72],[350,-9.1,70],[165,-9.2,78],[185,-9.3,70],[208,-9.4,78],[232,-9.2,78],[258,-9.5,70],[283,-9.4,78],[310,-9.6,72],[335,-9.5,70],[125,-10.2,74],[143,-10.5,78],[155,-10.2,72],[170,-10.5,76],[180,-10.5,78],[195,-10.6,78],[210,-10.6,78],[228,-10.4,78],[240,-10.5,72],[260,-10.6,74],[270,-10.5,78],[285,-10.5,78],[300,-10.5,50],[322,-10.2,68],[345,-10.2,70],[135,-11.3,72],[165,-11.5,70],[212,-11.4,74],[245,-11.5,78],[270,-11.6,72],[296,-11.5,78],[310,-11.5,78],[155,-11.8,78],[190,-11.8,78],[228,-12,78],[255,-12,74],[145,-12.6,74],[175,-12.7,78],[200,-12.5,78],[225,-12.7,76],[280,-12.6,74],[155,-13.1,79],[270,-13,78],[315,-13,76],[180,-14.2,78],[235,-13.8,78],[280,-14.8,70],[190,-15,78],[320,-15,72],[130,-15.8,70],[147,-15.7,70],[196,-16,78],[272,-15.8,72],[180,-16.8,78],[225,-16.6,78],[150,-17,78],[165,-17,72],[190,-17,70],[283,-17.4,78],[125,-17.2,74],[205,-17.8,78],[215,-18.2,78],[160,-18.3,78],[230,-18.6,79],[130,-19,70],[142,-19.2,74],[180,-19.5,78],[150,-19.8,72],[195,-20,78],[235,-20.6,77],[190,-20.9,68],[148,-21.6,78]
];

const luteolinTicks=[0,.5,1,1.5,2,2.5];
const luteolinTickLabels=["0.0","0.5","1.0","1.5","2.0","2.5"];
const luteolinSmoothX=[0,.1,.23,.47,.85,1.29,1.82,2.56];
const luteolinSmoothY=[-6,-3.3,-.9,1.3,2.3,3.6,4,4.8];
const luteolinSmoothSE=[.6,.4,.3,.3,.3,.5,.8,1.2];
const luteolinPoints=[
[.34,19.7,78],[.4,19.2,66],[.29,18.8,77],[.08,19.5,62],[.33,18,74],[1.18,19.3,78],[1.27,19.3,78],[.9,17.6,78],[.43,16.9,76],[.44,16.1,78],[1.08,16.6,72],[1.46,17.2,78],[1.52,16.5,70],[.08,15.9,60],[.05,15.3,66],[.3,15.6,70],[.85,14.8,78],[1.05,15,78],[.28,13.5,72],[.32,12.9,68],[.67,12.8,78],[1.17,12.8,68],[1.63,12.7,78],[.42,12.2,72],[.3,12,74],[1.37,12,62],[1.45,12,70],[1,11.7,70],[1.05,11.6,44],[2.18,11.5,68],[.5,10.8,78],[.68,10.3,78],[1.9,10.7,78],[1.34,10.6,76],[.08,10.3,62],[.32,10,70],[.38,10,48],[.68,9.6,72],[.85,9.8,76],[.98,10,74],[2.53,9.7,50],[2.57,9.9,58],[.2,9,78],[.32,9,76],[.9,9,60],[1.32,8.9,78],[1.55,9,70],[1.05,8,70],[1.15,8.5,66],[1.22,8.2,72],[.7,8.5,74],[1.03,7.7,66],[2.05,8.8,76],[.15,7.6,78],[.31,7.7,74],[.38,7.5,76],[.78,7.2,44],[.85,7.5,78],[1,7.5,44],[1.3,7.3,60],[1.3,7.6,44],[1.45,7.5,44],[1.88,7.4,56],[1.55,7.5,68],[1.1,7.1,70],[.08,6.9,60],[.3,6.5,52],[.35,6.9,72],[.65,6.8,72],[.6,6.2,74],[.85,6.6,76],[1,6.6,44],[1.1,6.3,46],[1.27,6.7,50],[1.42,6.5,52],[1.6,6.9,52],[1.68,6.9,50],[1.75,6.2,64],[2.05,6.6,70],[2.1,6.5,48],[2.35,6.7,66],[2.45,6.8,54],[2.58,6.9,70],[.1,6.5,52],[.05,5.7,50],[.3,5.7,48],[.5,5.6,70],[.68,6,66],[.85,5.6,78],[1,5.4,44],[1.15,5.6,60],[1.35,5.6,46],[1.55,5.6,66],[1.72,5.5,46],[1.95,5.8,44],[2.15,5.5,66],[2.3,5.6,60],[2.58,6,60],[.45,5.4,76],[.72,5.3,74],[.95,5.9,60],[1.2,5.3,52],[1.45,5.3,62],[1.62,5.9,66],[1.85,5.5,50],[2.05,5.5,58],[2.2,5.2,66],[2.4,5.3,76],[.03,4.8,54],[.2,4.9,78],[.38,5,62],[.6,5,45],[.75,4.9,50],[.95,4.8,54],[1.1,5,62],[1.3,4.7,50],[1.5,5,60],[1.65,4.8,64],[1.85,4.9,62],[2.05,4.7,60],[2.25,4.8,58],[2.45,4.6,72],[2.55,5,70],[.25,4.3,60],[.08,4,62],[.27,3.9,54],[.45,4.2,66],[.65,4.1,70],[.82,3.9,72],[1,4.1,68],[1.2,3.8,62],[1.42,4,56],[1.65,4,62],[1.8,3.9,70],[2,4,76],[2.2,3.9,62],[2.4,4.2,62],[2.55,3.8,56],[.52,3.9,50],[.72,3.9,64],[1.3,4.1,64],[.03,3.5,52],[.9,3.5,66],[1.1,3.5,54],[1.55,3.6,60],[1.75,3.5,48],[1.92,3.5,64],[2.1,3.4,60],[2.3,3.5,70],[2.5,3.4,60],[.13,3.1,50],[.02,2.5,44],[.25,3.2,45],[.37,3,56],[.55,3,52],[.72,3,74],[.92,3,60],[1.1,2.8,66],[1.32,3,60],[1.5,2.8,50],[1.73,3,60],[1.95,2.9,60],[2.15,3,64],[2.35,2.9,66],[2.55,2.9,46],[1.6,2.8,70],[1.85,3.1,66],[.4,2.5,72],[.6,2.2,60],[.78,2.4,66],[.95,2.3,72],[1.15,2.4,58],[1.45,2.4,50],[2.05,2.4,66],[2.3,2.2,48],[.13,2.2,48],[.25,2,50],[.1,2.1,56],[.3,2.1,78],[.48,1.8,60],[.68,2,62],[.85,1.9,50],[1.03,1.9,56],[1.2,1.7,44],[1.32,2.2,44],[1.6,2,46],[1.8,2.4,78],[1.7,1.6,46],[2,1.6,60],[2.2,1.6,64],[2.4,1.7,52],[2.5,1.8,44],[2.58,1.9,46],[.03,1.7,56],[.03,1.3,52],[.2,1.4,60],[.4,.9,54],[.4,1.6,50],[.52,1.4,62],[.6,1,60],[.78,1,62],[.7,1.1,56],[.9,1.2,60],[1,.9,50],[1.15,1.3,46],[1.25,1.1,48],[1.4,1.1,48],[1.48,1.4,44],[1.58,1.2,62],[1.63,.9,56],[1.77,1.2,46],[1.9,.9,60],[2.02,.7,62],[2.1,.9,62],[2.2,.9,70],[2.38,1.4,62],[2.4,1.2,44],[2.5,.8,48],[.1,.7,60],[.2,.8,46],[.03,.7,46],[.03,.2,50],[.17,.3,62],[.13,.2,50],[.33,.2,52],[.52,.1,60],[.72,0,66],[1.05,0,70],[1.07,.2,46],[.9,.1,56],[1.3,.2,48],[1.48,.2,50],[1.65,.2,62],[2.02,.1,44],[2.2,-.2,70],[2.25,-.2,66],[2.28,.5,64],[2.48,-.4,66],[2.58,-.4,60],[.1,-.3,54],[.25,-.3,60],[1.7,-.2,60],[.03,-.8,46],[.17,-.9,64],[.32,-.7,50],[.47,-.9,60],[.65,-.7,52],[.8,-.8,78],[1,-.9,60],[1.15,-.6,64],[1.45,-.8,62],[1.58,-.9,50],[1.85,-.8,54],[.1,-1.2,44],[.25,-1.2,56],[.38,-1,66],[.55,-1,64],[.75,-1.4,50],[.9,-1.5,66],[1.12,-1.4,62],[1.3,-1.2,44],[1.52,-1.2,70],[.03,-1.8,56],[.05,-2,74],[.2,-1.8,60],[.36,-1.9,72],[.52,-1.9,52],[.72,-2.1,62],[.95,-2.1,78],[1.13,-2,64],[1.26,-2.1,62],[1.43,-2.7,44],[1.73,-2.6,78],[2.12,-3,62],[2.2,-2.1,62],[2.03,-2.8,66],[.12,-2.4,50],[.27,-2.6,56],[.42,-2.6,60],[.62,-2.7,62],[.8,-2.7,64],[.03,-3,44],[.18,-3.1,64],[.37,-3.7,78],[.52,-3.1,72],[.7,-3.1,70],[.98,-3.1,72],[1.14,-3.9,52],[1.97,-3,78],[2.2,-3.2,78],[2.08,-3.4,78],[.12,-3.6,44],[.28,-3.8,74],[.42,-3.5,70],[.58,-3.7,72],[.75,-3.7,74],[.03,-4.2,46],[.2,-4.2,50],[.45,-4.5,60],[.65,-4.3,78],[.78,-4.4,62],[.88,-4.9,70],[1.33,-4.6,66],[1.4,-4.4,72],[1.6,-4.4,66],[1.73,-4.7,78],[.13,-4.7,60],[.3,-4.4,70],[.55,-4.5,62],[.7,-4.5,70],[.1,-5.2,70],[.27,-5.3,78],[.48,-5.8,72],[.6,-5.7,78],[.68,-5.5,72],[.9,-5.5,66],[1.05,-5.1,78],[.02,-5.3,56],[.2,-5.5,66],[.38,-5.4,66],[.8,-5.4,64],[.13,-6.2,50],[.04,-6.4,46],[.2,-6.6,66],[.33,-6.1,60],[.7,-6.5,78],[2.38,-6,78],[.02,-7.2,60],[.1,-7.2,48],[.1,-7.1,66],[.3,-7,72],[.22,-7.2,72],[.43,-7.4,78],[.52,-7.4,78],[.7,-7.2,70],[.78,-7.2,78],[1.21,-7.5,66],[1.46,-7.2,78],[.1,-8.1,70],[.22,-8,66],[.25,-8,76],[.7,-8.2,70],[1.3,-8.1,78],[.02,-9,44],[.2,-9.1,66],[.27,-9.4,78],[.13,-9.4,66],[.05,-9.6,64],[.47,-8.9,72],[.47,-9.6,72],[1.29,-9.6,72],[2.36,-9.6,72],[.03,-10.1,72],[.15,-10.2,70],[.22,-10.3,70],[.25,-10.5,74],[.05,-11,78],[.13,-11,72],[.18,-11.4,76],[.02,-11.6,78],[.08,-12,74],[.16,-12,72],[.25,-12.2,66],[.25,-12.9,78],[.03,-12.6,78],[.13,-12.9,72],[.2,-13.5,70],[.05,-13.8,72],[.12,-14,74],[.18,-13.9,78],[.1,-15,66],[.2,-15.4,74],[.25,-15.6,68],[.13,-15.5,78],[.03,-15.4,70],[.08,-16.1,78],[.15,-16.3,78],[.03,-17,74],[.13,-17.2,78],[.05,-17.7,78],[.22,-17.1,64],[.18,-18,70],[.08,-18,72],[.1,-18.5,78],[.18,-18.9,78],[.01,-18.6,78],[.08,-19,70],[.03,-19.7,78],[.13,-19.8,66],[.14,-20,74],[.02,-20.6,78],[.04,-21.5,66]
];

const catechinTicks=[0,5,10,15,20];
const catechinTickLabels=["0","5","10","15","20"];
const catechinSmoothX=[0,.9,2.3,3.7,5.1,8.3,11.1,14,16.8,19.6,24.5];
const catechinSmoothY=[9.1,5,.6,-2.3,-3.6,-4.5,-3.8,-2.6,-1.1,1.3,4];
const catechinSmoothSE=[.9,.7,.4,.3,.3,.3,.3,.3,.4,.6,1.1];
const catechinPoints=[
[0,22,78],[1.4,22,70],[0,21.2,72],[.05,20.5,70],[.7,20,78],[2.4,19.7,70],[2.9,20,78],[23,20,72],[23.5,19.8,70],[22.5,19,78],[0,19.5,60],[0,18.5,60],[0,17.7,60],[.4,17.8,72],[1.7,16.9,70],[0,16.8,44],[0,15.9,46],[0,15,52],[12.9,15.8,78],[20.6,14.5,70],[0,14.7,72],[23.3,14.2,56],[23.4,13.3,50],[0,13.5,46],[1.3,13.4,70],[2.7,13.2,78],[.9,13,72],[2,12.4,74],[2.7,12.3,78],[19.3,12.4,56],[22.3,11.9,45],[24.3,12.2,60],[2.3,11.8,68],[0,12.3,46],[0,11.4,42],[3.9,11.2,78],[.8,10.8,70],[0,10.6,50],[20.5,10.2,70],[22.7,9.9,46],[.9,9.8,78],[0,9.6,56],[21.9,9.4,60],[22.5,9.6,78],[2.1,9.1,78],[2.7,8.9,74],[.3,8.2,66],[.9,8.2,78],[1.8,8.2,72],[21.2,8,44],[22.4,8,50],[3.3,7.8,76],[20.4,7.8,78],[1.9,7.3,74],[22.4,7.4,50],[24.2,7.5,46],[.3,7.5,50],[1.2,7.6,70],[2.2,7.6,74],[0,6.7,52],[1,6.7,76],[2.7,6.8,72],[13,6.7,68],[20.9,6.9,72],[22.7,6.8,72],[24.2,6.5,50],[.1,5.9,62],[1.7,5.6,70],[2.8,6,64],[3.9,5.9,78],[12.8,5.9,78],[22.7,5.9,62],[24,5.8,62],[1.1,5.7,60],[2.2,6.2,66],[0,5.1,74],[1.4,5.2,46],[2.4,5,70],[3.7,5.1,78],[11.8,4.9,70],[21,5.4,44],[20,5.3,50],[21.8,5.3,62],[.4,4.7,72],[10.9,4.4,78],[11.5,3.9,78],[0,3.8,44],[.9,4,60],[2.1,3.9,62],[3.7,3.4,66],[19.6,4.1,44],[20.7,4.2,56],[21.8,4,66],[18.8,3.4,46],[19.7,3,52],[19.8,3,48],[21.4,3,52],[22.4,3,62],[12.9,3.3,70],[1.1,3.2,66],[1.8,3.2,72],[.5,3,48],[0,2.6,60],[1.4,2.7,66],[2.7,2.9,54],[3.8,2.7,50],[1.9,2.5,56],[14.3,2.8,56],[18.2,2.7,50],[19.3,2.2,48],[20.5,2.5,52],[20.1,2,50],[21.8,2.2,70],[21,1.8,70],[1.2,2,54],[.7,1.7,60],[2.2,1.7,48],[3.3,1.5,52],[7,1.7,72],[7.6,1.5,70],[11,1.6,78],[12.5,1.3,50],[14,1.8,78],[16,1.7,70],[17.8,1.9,76],[22.9,1.7,50],[.4,1.4,62],[0,.8,48],[1.2,.8,74],[2.8,.6,60],[3.8,.8,44],[5.6,.5,72],[6.8,.7,46],[6.5,.5,50],[8,.8,56],[9.6,.5,48],[11.3,.8,60],[12.9,.8,44],[14.3,.5,50],[15.8,.7,46],[17.4,.5,54],[18.2,.7,60],[19.3,.6,48],[20.6,.4,52],[24.2,.5,70],[.8,.2,50],[1.5,.1,62],[2.3,.3,52],[3.5,.2,46],[5.3,.1,60],[13.2,.2,54],[16.2,.3,44],[0,-.2,52],[1.4,-.2,60],[3.2,-.2,48],[4.6,-.2,60],[6,-.2,50],[7.3,-.2,44],[7.5,-.5,54],[8.6,-.2,52],[8.8,.1,48],[10.4,-.2,44],[11.8,-.2,46],[12,-.2,62],[12.7,-.4,48],[13.5,-.4,50],[14.6,-.6,48],[15,-.1,66],[15.5,-.4,50],[16.6,-.2,50],[17,-.4,54],[18,.1,60],[19.4,-.6,52],[24.3,-.7,76],[.3,-.8,50],[1.9,-.7,58],[4.1,-.9,54],[5,-1,46],[8.5,-1.3,48],[9.3,-.9,44],[10.8,-.8,50],[18,-.8,46],[18.7,-1,52],[0,-1.4,44],[1.1,-1.1,56],[2,-1.2,50],[3.7,-1.5,62],[5.2,-1.2,50],[6.2,-.9,44],[6.7,-1.3,60],[7.8,-1.2,60],[9.5,-1,44],[11,-1.3,72],[11.7,-1.5,66],[12.3,-1.2,54],[13,-1.2,46],[13.9,-1.3,48],[15.5,-1.4,60],[16.4,-1.3,52],[17.2,-1.2,70],[18,-1.7,44],[19.5,-1.6,52],[19.9,-1.2,46],[21.4,-1,78],[.5,-2,46],[2.5,-1.7,48],[5.7,-1.9,50],[7.2,-2,62],[9.9,-1.9,46],[14.5,-1.8,64],[.9,-2.4,66],[2.1,-2.6,52],[3,-2.6,46],[4.3,-2.4,66],[5.8,-2.3,62],[7.9,-2.4,48],[8.8,-2.4,44],[10.1,-2.2,50],[11.6,-2.5,58],[12.6,-2.4,60],[13.4,-2.4,56],[14.9,-2.5,46],[15.4,-2.2,62],[16.4,-2.6,54],[17.2,-2.4,60],[18.6,-2.4,60],[16.8,-2.5,70],[10.8,-2.7,60],[0,-3.2,78],[1.3,-3.5,72],[2.8,-3.4,44],[3.8,-3.5,44],[4.6,-3.2,64],[5.2,-3.4,60],[6,-3.5,70],[6.7,-3.5,62],[7.7,-3.6,54],[8.4,-3.6,44],[9.2,-3,44],[9.8,-3.4,50],[10.4,-3.3,60],[11.1,-3.5,60],[12.1,-3.6,72],[12.8,-3.5,68],[13.5,-3.2,62],[14.2,-3.6,70],[15,-3.4,60],[15.6,-3.2,60],[16.9,-3.4,78],[18,-3.6,64],[19.6,-2.9,78],[.1,-4.4,72],[1.2,-4.4,46],[2.5,-4.7,44],[2,-4.5,60],[3.5,-4.3,52],[4.1,-4.8,66],[5.4,-4.9,44],[6.2,-4.9,48],[7,-4.8,62],[7.8,-5,66],[8.7,-5,52],[9,-4.3,46],[9.6,-4.9,72],[10.5,-4.8,54],[11.3,-4.8,48],[12,-4.7,50],[12.8,-4.7,44],[13.4,-4.9,66],[14.3,-4.7,70],[15,-4.8,60],[16.2,-4.4,64],[17.9,-4.9,70],[18.9,-4.4,60],[20.3,-4.2,70],[1.7,-5.5,76],[3.2,-5,78],[4.2,-5.6,62],[6,-5.7,70],[7.5,-5.7,72],[9.4,-5.7,70],[11.5,-5.6,60],[14,-5.9,70],[15.9,-5.6,76],[17.2,-5.5,72],[18.7,-5.3,76],[20.4,-5.5,70],[3,-6.2,76],[5,-6,70],[6.7,-6.2,76],[8.5,-6,78],[10.6,-5.9,78],[12.7,-6,70],[15,-6.1,72],[1,-6.7,70],[2.2,-6.7,78],[3.7,-6.7,72],[5.4,-6.6,76],[7.2,-6.9,70],[8.8,-6.7,78],[10.1,-6.4,72],[12,-6.9,76],[14.4,-6.8,74],[16,-7,78],[16.6,-6.7,62],[19.4,-6.2,72],[20.6,-6.6,78],[12.5,-7,78],[14,-7.2,72],[15.6,-7.4,70],[.7,-7.5,72],[1.7,-7.9,66],[3.1,-7.8,78],[4,-7.6,70],[4.8,-7.7,70],[5.8,-7.8,78],[6.7,-7.5,45],[7.6,-7.6,70],[8.6,-7.9,64],[9.7,-7.8,62],[10.5,-7.4,58],[11,-7.5,70],[11.9,-8,78],[13.2,-7.8,72],[14.7,-7.9,78],[17,-7.6,78],[18.4,-7.9,72],[19.5,-8,76],[21.5,-7.5,76],[1.5,-8.5,72],[2.9,-8.8,78],[4.7,-8.6,70],[6.4,-8.6,72],[8.9,-8.5,48],[10,-8.4,70],[12,-8.5,60],[13.5,-8.5,70],[15.2,-8.5,76],[17.6,-8.2,70],[6,-9,70],[7.3,-8.9,70],[9.6,-9,66],[11.2,-9,72],[3.2,-9.8,78],[4.1,-9.8,78],[5.4,-9.9,72],[6.5,-9.8,70],[7.2,-9.7,72],[8.3,-9.7,70],[9,-10,70],[9.9,-9.8,72],[13.5,-9.9,70],[15.5,-9.9,78],[17.5,-9.8,78],[5.7,-10.6,72],[7.2,-10.6,70],[9,-10.7,62],[10.4,-10.8,74],[11.9,-10.5,78],[14.2,-10.5,78],[18.2,-10.4,78],[2.2,-11.2,70],[4.4,-11,78],[5.9,-11.4,70],[5.8,-11.5,70],[6.8,-11,70],[7.5,-11.8,72],[8,-11.3,78],[9,-11.5,45],[9.7,-10.8,70],[9.5,-11.4,78],[10,-11.7,74],[11.4,-11.4,78],[12.2,-11.8,78],[5,-12,78],[6.2,-12.1,78],[6.7,-12.3,76],[7.7,-12.4,78],[9.2,-12.4,70],[10.2,-12.2,76],[3,-12.5,78],[11.2,-12.7,70],[12.5,-12.6,68],[17,-12.4,68],[18.7,-13,72],[4.3,-13.1,70],[5,-13.7,76],[5.3,-13.9,78],[8.1,-13.4,78],[10.3,-13.9,76],[11,-13.7,78],[14.2,-13.3,68],[8.3,-14.2,78],[9.1,-14.7,78],[5.3,-16.4,70],[8,-15.7,72],[7.2,-16.4,78],[8.5,-16.9,76],[8,-17.5,70],[6.1,-17.7,78],[7.2,-18,78]
];

const plotsRoot=document.getElementById('plots');
const SVGNS='http://www.w3.org/2000/svg';
function make(tag,parent,attrs,text){
  const el=document.createElementNS(SVGNS,tag);
  for(const k in attrs){el.setAttribute(k,attrs[k]);}
  if(text!==undefined){el.textContent=text;}
  parent.appendChild(el);
  return el;
}
const colorStops=[[40,[74,29,112]],[50,[138,33,104]],[60,[203,67,80]],[70,[239,123,32]],[80,[251,180,31]]];
function ageColor(a){
  a=Math.max(40,Math.min(80,a));
  for(let i=0;i<4;i++){
    const s=colorStops[i],e=colorStops[i+1];
    if(a<=e[0]){
      const t=(a-s[0])/(e[0]-s[0]);
      return 'rgb('+[0,1,2].map(function(c){return Math.round(s[1][c]+t*(e[1][c]-s[1][c]));}).join(',')+')';
    }
  }
  return 'rgb(251,180,31)';
}
function linearScale(d0,d1,r0,r1){return function(v){return r0+(v-d0)/(d1-d0)*(r1-r0);};}
function curvePath(pts){
  let d='M'+pts[0][0].toFixed(1)+' '+pts[0][1].toFixed(1);
  for(let i=0;i<pts.length-1;i++){
    const p0=pts[Math.max(i-1,0)],p1=pts[i],p2=pts[i+1],p3=pts[Math.min(i+2,pts.length-1)];
    const k=.12;
    d+=' C'+(p1[0]+(p2[0]-p0[0])*k).toFixed(1)+' '+(p1[1]+(p2[1]-p0[1])*k).toFixed(1)+' '+(p2[0]-(p3[0]-p1[0])*k).toFixed(1)+' '+(p2[1]-(p3[1]-p1[1])*k).toFixed(1)+' '+p2[0].toFixed(1)+' '+p2[1].toFixed(1);
  }
  return d;
}

function drawPanel(p){
  const g=make('g',plotsRoot,{});
  
  
  const xs=linearScale(p.xDomain[0],p.xDomain[1],p.left,p.right);
  const ys=linearScale(-22,22,p.bottom,p.top);
  const bg=make('rect',g,{x:p.left,y:p.top,width:p.right-p.left,height:p.bottom-p.top,fill:'#ebebeb'});
  
  
  const clipId='clip-'+p.key;
  const cp=make('clipPath',g,{id:clipId});
  make('rect',cp,{x:p.left,y:p.top,width:p.right-p.left,height:p.bottom-p.top});
  const grid=make('g',g,{stroke:'#fff','clip-path':'url(#'+clipId+')'});
  
  
  const step=p.ticks[1]-p.ticks[0];
  for(let v=p.ticks[0]-step*2.5;v<=p.ticks[p.ticks.length-1]+step*3;v+=step){
    make('line',grid,{x1:xs(v),x2:xs(v),y1:p.top,y2:p.bottom,'stroke-width':1.1});
  }
  [-25,-15,-5,5,15].forEach(function(v){
    make('line',grid,{x1:p.left,x2:p.right,y1:ys(v),y2:ys(v),'stroke-width':1.1});
  });
  p.ticks.forEach(function(v){
    make('line',grid,{x1:xs(v),x2:xs(v),y1:p.top,y2:p.bottom,'stroke-width':2.4});
  });
  shapTicks.forEach(function(v){
    make('line',grid,{x1:p.left,x2:p.right,y1:ys(v),y2:ys(v),'stroke-width':2.4});
  });
  const marks=make('g',g,{'clip-path':'url(#'+clipId+')'});
  
  
  p.points.forEach(function(pt){
    const c=make('circle',marks,{cx:xs(pt[0]).toFixed(1),cy:ys(pt[1]).toFixed(1),r:6.6,fill:ageColor(pt[2])});
    
    
  });
  const upper=p.smoothX.map(function(x,i){return xs(x).toFixed(1)+','+ys(p.smoothY[i]+p.smoothSE[i]).toFixed(1);});
  const lower=p.smoothX.map(function(x,i){return xs(x).toFixed(1)+','+ys(p.smoothY[i]-p.smoothSE[i]).toFixed(1);}).reverse();
  const band=make('polygon',marks,{points:upper.concat(lower).join(' '),fill:'#999','fill-opacity':.55});
  
  
  const linePts=p.smoothX.map(function(x,i){return [xs(x),ys(p.smoothY[i])];});
  const line=make('path',marks,{d:curvePath(linePts),fill:'none',stroke:'#ec1018','stroke-width':5.8,'stroke-linejoin':'round'});
  
  
  shapTicks.forEach(function(v,i){
    make('line',g,{x1:p.left-7,x2:p.left,y1:ys(v),y2:ys(v),stroke:'#333','stroke-width':3});
    const t=make('text',g,{x:p.left-12,y:ys(v)+8,'font-size':23,fill:'#4d4d4d','text-anchor':'end'},shapTickLabels[i]);
    
    
  });
  p.ticks.forEach(function(v,i){
    make('line',g,{x1:xs(v),x2:xs(v),y1:p.bottom,y2:p.bottom+7,stroke:'#333','stroke-width':3});
    const t=make('text',g,{x:xs(v),y:p.bottom+30,'font-size':23,fill:'#4d4d4d','text-anchor':'middle'},p.tickLabels[i]);
    
    
  });
  const xt=make('text',g,{x:p.titleX,y:p.bottom+62,'font-size':28,fill:'#111','text-anchor':'middle'},p.title);
  
  
  const yc=(p.top+p.bottom)/2;
  const yt=make('text',g,{x:p.yTitleX,y:yc+10,'font-size':28,fill:'#111','text-anchor':'middle',transform:'rotate(-90 '+p.yTitleX+' '+yc+')'},'SHAP value');
  
  
  // legend
  const lg=make('g',g,{});
  
  
  const lt=p.top+134.5,lb=p.top+358.5;
  const ls=linearScale(40,80,lb,lt);
  const at=make('text',lg,{x:p.legendX+1,y:p.top+115,'font-size':27.5,fill:'#111'},'age');
  
  
  const bar=make('rect',lg,{x:p.legendX,y:lt,width:46,height:lb-lt,fill:'url(#ageGradient)'});
  
  
  ageTicks.forEach(function(v){
    if(v>40&&v<80){
      make('line',lg,{x1:p.legendX,x2:p.legendX+9,y1:ls(v),y2:ls(v),stroke:'#fff','stroke-width':1.2});
      make('line',lg,{x1:p.legendX+37,x2:p.legendX+46,y1:ls(v),y2:ls(v),stroke:'#fff','stroke-width':1.2});
    }
    const t=make('text',lg,{x:p.legendX+59,y:ls(v)+8,'font-size':23,fill:'#111'},String(v));
    
    
  });
}
const rowOne={top:707.6,bottom:1156.4};
const rowTwo={top:1253.6,bottom:1702.4};
[
 {key:'selenium',title:'selenium',points:seleniumPoints,ticks:seleniumTicks,tickLabels:seleniumTickLabels,smoothX:seleniumSmoothX,smoothY:seleniumSmoothY,smoothSE:seleniumSmoothSE,xDomain:[42.3,227.6],left:178,right:420,top:rowOne.top,bottom:rowOne.bottom,titleX:299,yTitleX:83,legendX:434},
 {key:'total-flavones',title:'Total_Flavones',points:flavonesPoints,ticks:flavonesTicks,tickLabels:flavonesTickLabels,smoothX:flavonesSmoothX,smoothY:flavonesSmoothY,smoothSE:flavonesSmoothSE,xDomain:[-.13,3.01],left:667,right:907,top:rowOne.top,bottom:rowOne.bottom,titleX:787,yTitleX:572,legendX:922},
 {key:'myricetin',title:'Myricetin',points:myricetinPoints,ticks:myricetinTicks,tickLabels:myricetinTickLabels,smoothX:myricetinSmoothX,smoothY:myricetinSmoothY,smoothSE:myricetinSmoothSE,xDomain:[-.17,5.74],left:1155,right:1396,top:rowOne.top,bottom:rowOne.bottom,titleX:1276,yTitleX:1060,legendX:1409},
 {key:'magnesium',title:'magnesium',points:magnesiumPoints,ticks:magnesiumTicks,tickLabels:magnesiumTickLabels,smoothX:magnesiumSmoothX,smoothY:magnesiumSmoothY,smoothSE:magnesiumSmoothSE,xDomain:[121,575],left:178,right:420,top:rowTwo.top,bottom:rowTwo.bottom,titleX:298,yTitleX:83,legendX:434},
 {key:'luteolin',title:'Luteolin',points:luteolinPoints,ticks:luteolinTicks,tickLabels:luteolinTickLabels,smoothX:luteolinSmoothX,smoothY:luteolinSmoothY,smoothSE:luteolinSmoothSE,xDomain:[-.12,2.556],left:667,right:907,top:rowTwo.top,bottom:rowTwo.bottom,titleX:787,yTitleX:572,legendX:922},
 {key:'catechin',title:'Catechin',points:catechinPoints,ticks:catechinTicks,tickLabels:catechinTickLabels,smoothX:catechinSmoothX,smoothY:catechinSmoothY,smoothSE:catechinSmoothSE,xDomain:[-1.06,24.4],left:1155,right:1396,top:rowTwo.top,bottom:rowTwo.bottom,titleX:1275,yTitleX:1060,legendX:1409}
].forEach(drawPanel);
</script>
</body></html>
